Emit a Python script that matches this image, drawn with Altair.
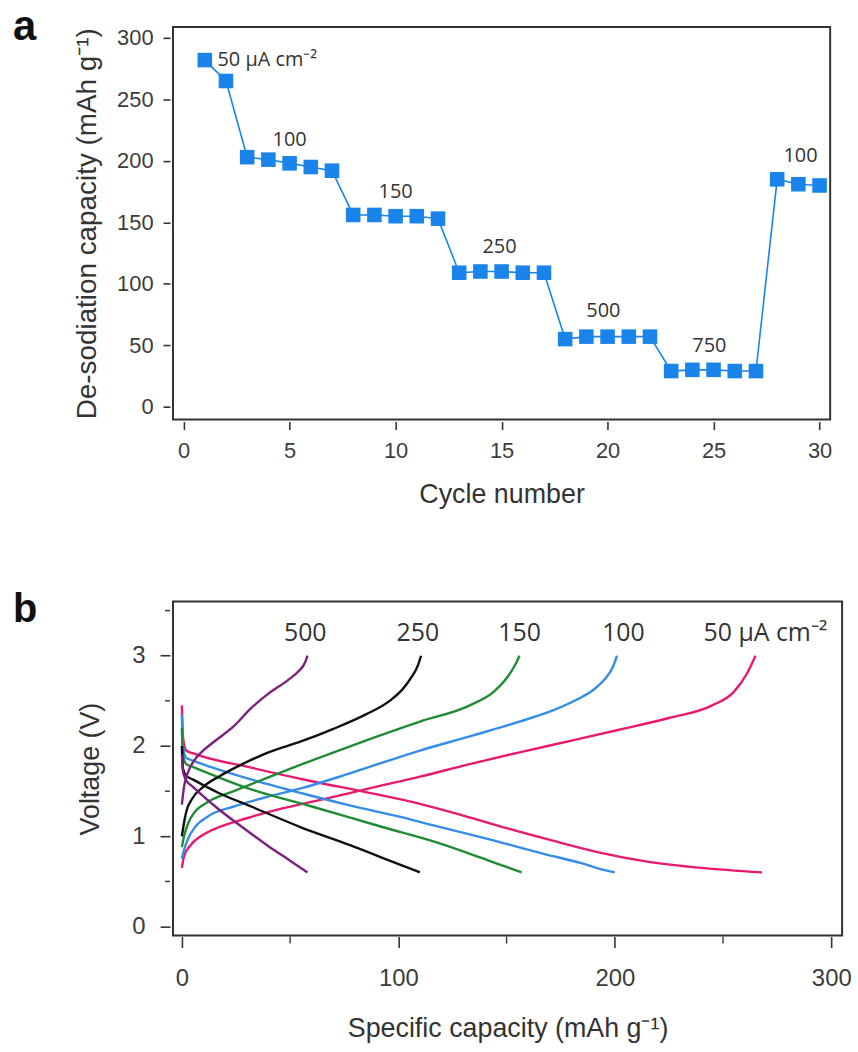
import altair as alt
import pandas as pd

# ---------------- Panel a data ----------------
cycles = list(range(1, 31))
capacity = [282, 265, 203, 201, 198, 195, 192, 156, 156, 155, 155, 153,
            109, 110, 110, 109, 109, 55, 57, 57, 57, 57, 29, 30, 30, 29, 29,
            185, 181, 180]

a_label_text = ["50 µA cm⁻²", "100", "150", "250", "500", "750", "100"]
a_label_x = [1.6, 5.0, 10.0, 14.9, 19.8, 24.8, 29.1]
a_label_y = [282, 217, 175, 130, 78, 49, 204]
a_label_align = ["left", "center", "center", "center", "center", "center", "center"]

# ---------------- Panel b data ----------------
rates = ["50", "100", "150", "250", "500"]
rate_colors = ["#e8196f", "#348de6", "#1f8b33", "#111111", "#7d1f7f"]

# charge (de-sodiation, rising to 3 V)
ch_50_cap = [0, 1, 4, 10, 17, 30, 45, 67, 90, 110, 133, 156, 180, 202, 225, 245, 255, 261, 265]
ch_50_v = [0.65, 0.78, 0.90, 1.02, 1.10, 1.20, 1.30, 1.42, 1.55, 1.66, 1.80, 1.93, 2.06, 2.18, 2.31, 2.45, 2.60, 2.80, 3.00]
ch_100_cap = [0, 1, 3, 6, 12, 24, 40, 55, 78, 110, 135, 156, 172, 183, 190, 195, 199, 201]
ch_100_v = [0.75, 0.85, 0.98, 1.10, 1.22, 1.33, 1.44, 1.53, 1.70, 1.95, 2.12, 2.27, 2.40, 2.52, 2.62, 2.73, 2.87, 3.00]
ch_150_cap = [0, 1, 3, 6, 12, 24, 47, 78, 110, 133, 144, 150, 154, 156]
ch_150_v = [0.88, 1.00, 1.15, 1.27, 1.38, 1.50, 1.72, 2.00, 2.27, 2.45, 2.60, 2.75, 2.90, 3.00]
ch_250_cap = [0, 1, 2, 4.6, 10, 17, 28, 40, 55, 70, 85, 96, 102, 106, 109, 110.5]
ch_250_v = [1.00, 1.15, 1.27, 1.41, 1.55, 1.66, 1.80, 1.93, 2.05, 2.19, 2.35, 2.50, 2.63, 2.76, 2.89, 3.00]
ch_500_cap = [0, 1, 3, 6, 9, 15, 24, 32, 40, 49, 54, 57, 58]
ch_500_v = [1.35, 1.55, 1.72, 1.85, 1.93, 2.05, 2.22, 2.42, 2.58, 2.73, 2.83, 2.93, 3.00]

# discharge (sodiation, falling to 0.6 V)
dis_50_cap = [0, 0.5, 2, 5, 32, 60, 85, 110, 130, 150, 170, 193, 215, 240, 268]
dis_50_v = [2.45, 2.10, 1.95, 1.92, 1.76, 1.61, 1.49, 1.36, 1.23, 1.09, 0.96, 0.82, 0.72, 0.65, 0.60]
dis_100_cap = [0, 0.5, 2, 5, 32, 58, 78, 100, 118, 143, 168, 185, 193, 200]
dis_100_v = [2.35, 2.00, 1.87, 1.84, 1.63, 1.46, 1.34, 1.22, 1.11, 0.96, 0.80, 0.70, 0.64, 0.60]
dis_150_cap = [0, 0.5, 2, 5, 32, 60, 93, 118, 135, 143, 150, 157]
dis_150_v = [2.20, 1.90, 1.80, 1.77, 1.52, 1.33, 1.10, 0.93, 0.79, 0.72, 0.66, 0.60]
dis_250_cap = [0, 0.5, 2, 5, 17, 32, 55, 78, 95, 110]
dis_250_v = [2.00, 1.75, 1.67, 1.63, 1.48, 1.33, 1.10, 0.90, 0.74, 0.60]
dis_500_cap = [0, 0.5, 2, 5, 17, 28, 40, 50, 58]
dis_500_v = [1.90, 1.72, 1.62, 1.55, 1.30, 1.10, 0.89, 0.73, 0.60]

b_label_text = ["500", "250", "150", "100", "50 µA cm⁻²"]
b_label_x = [57, 109, 156, 204, 241]
b_label_y = [3.25, 3.25, 3.25, 3.25, 3.25]
b_label_align = ["center", "center", "center", "center", "left"]

minor_x = [50, 150, 250]
minor_y = [0.5, 1.5, 2.5, 3.5]

# ---------------- build tables ----------------
df_a = pd.DataFrame({"cycle": cycles, "cap": capacity})
df_a_lab = pd.DataFrame({"x": a_label_x, "y": a_label_y, "t": a_label_text, "al": a_label_align})

series = [
    ("50", "c50", ch_50_cap, ch_50_v), ("50", "d50", dis_50_cap, dis_50_v),
    ("100", "c100", ch_100_cap, ch_100_v), ("100", "d100", dis_100_cap, dis_100_v),
    ("150", "c150", ch_150_cap, ch_150_v), ("150", "d150", dis_150_cap, dis_150_v),
    ("250", "c250", ch_250_cap, ch_250_v), ("250", "d250", dis_250_cap, dis_250_v),
    ("500", "c500", ch_500_cap, ch_500_v), ("500", "d500", dis_500_cap, dis_500_v),
]
rows = []
for rate, seg, caps, vs in series:
    for i, (c, v) in enumerate(zip(caps, vs)):
        rows.append({"rate": rate, "seg": seg, "i": i, "cap": c, "v": v})
df_b = pd.DataFrame(rows)
df_b_lab = pd.DataFrame({"x": b_label_x, "y": b_label_y, "t": b_label_text, "al": b_label_align})

FONT = "Liberation Sans"
ANN_FONT = "Open Sans"
TICK = "#333333"

def axis(values, offset, tick, lpad, lsize, title, tsize, tpad, flush=False):
    return alt.Axis(values=values, format="d", domain=False, grid=False, offset=offset,
                    tickSize=tick, tickColor=TICK, tickWidth=1.6,
                    labelFont=FONT, labelFontSize=lsize, labelColor="#3c3c3c",
                    labelPadding=lpad, labelFlush=flush,
                    title=title, titleFont=FONT, titleFontSize=tsize,
                    titleFontWeight="normal", titleColor="#333333",
                    titlePadding=tpad)

# ---------------- Panel a ----------------
xa = alt.X("cycle:Q", scale=alt.Scale(domain=[-0.5, 30.5], nice=False, zero=False),
           axis=axis(list(range(0, 31, 5)), 2, 8, 11, 22, "Cycle number", 27, 20))
ya = alt.Y("cap:Q", scale=alt.Scale(domain=[-10.5, 309], nice=False, zero=False),
           axis=axis(list(range(0, 301, 50)), 3, 7, 10, 22,
                     "De-sodiation capacity (mAh g⁻¹)", 28, 15))

BLUE = "#1a84ea"
line_a = alt.Chart(df_a).mark_line(color=BLUE, strokeWidth=1.6).encode(x=xa, y=ya)
pts_a = alt.Chart(df_a).mark_square(color=BLUE, size=215, opacity=1).encode(x="cycle:Q", y="cap:Q")
lab_a_left = alt.Chart(df_a_lab[df_a_lab.al == "left"]).mark_text(
    font=ANN_FONT, fontSize=20, color="#333333", align="left", baseline="middle"
).encode(x="x:Q", y="y:Q", text="t:N")
lab_a_center = alt.Chart(df_a_lab[df_a_lab.al == "center"]).mark_text(
    font=ANN_FONT, fontSize=20, color="#333333", align="center", baseline="middle"
).encode(x="x:Q", y="y:Q", text="t:N")
letter_a = alt.Chart(pd.DataFrame({"t": ["a"]})).mark_text(
    font=FONT, fontSize=42, fontWeight="bold", color="#111111",
    align="left", baseline="alphabetic"
).encode(x=alt.value(-161), y=alt.value(13), text="t:N")

panel_a = alt.layer(line_a, pts_a, lab_a_left, lab_a_center, letter_a).properties(
    width=661, height=395)

# ---------------- Panel b ----------------
HB = 336
xb = alt.X("cap:Q", scale=alt.Scale(domain=[-4.1, 305], nice=False, zero=False),
           axis=axis([0, 100, 200, 300], 1, 11, 19, 24,
                     "Specific capacity (mAh g⁻¹)", 27, 25))
yb = alt.Y("v:Q", scale=alt.Scale(domain=[-0.1, 3.6], nice=False, zero=False),
           axis=axis([0, 1, 2, 3], 3, 10, 15, 24, "Voltage (V)", 27, 28))

lines_b = alt.Chart(df_b).mark_line(strokeWidth=2.4, interpolate="monotone").encode(
    x=xb, y=yb,
    color=alt.Color("rate:N", scale=alt.Scale(domain=rates, range=rate_colors), legend=None),
    detail="seg:N",
    order="i:Q",
)
lab_b_center = alt.Chart(df_b_lab[df_b_lab.al == "center"]).mark_text(
    font=ANN_FONT, fontSize=25, color="#333333", align="center", baseline="middle"
).encode(x=alt.X("x:Q"), y=alt.Y("y:Q"), text="t:N")
lab_b_left = alt.Chart(df_b_lab[df_b_lab.al == "left"]).mark_text(
    font=ANN_FONT, fontSize=25, color="#333333", align="left", baseline="middle"
).encode(x=alt.X("x:Q"), y=alt.Y("y:Q"), text="t:N")
minor_bx = alt.Chart(pd.DataFrame({"cap": minor_x})).mark_rule(
    color=TICK, strokeWidth=1.4
).encode(x="cap:Q", y=alt.value(HB + 1), y2=alt.value(HB + 8))
minor_by = alt.Chart(pd.DataFrame({"v": minor_y})).mark_rule(
    color=TICK, strokeWidth=1.4
).encode(y="v:Q", x=alt.value(-8), x2=alt.value(-3))
letter_b = alt.Chart(pd.DataFrame({"t": ["b"]})).mark_text(
    font=FONT, fontSize=40, fontWeight="bold", color="#111111",
    align="left", baseline="alphabetic"
).encode(x=alt.value(-161), y=alt.value(21), text="t:N")

panel_b = alt.layer(lines_b, lab_b_center, lab_b_left, minor_bx, minor_by, letter_b).properties(
    width=673, height=HB)

chart = alt.vconcat(panel_a, panel_b, spacing=82).properties(
    padding={"left": 12, "top": 2, "right": 5, "bottom": 5},
    background="white",
).configure_view(stroke="#333333", strokeWidth=2)

chart.save("out.html", embed_options={"renderer": "svg", "actions": False})
